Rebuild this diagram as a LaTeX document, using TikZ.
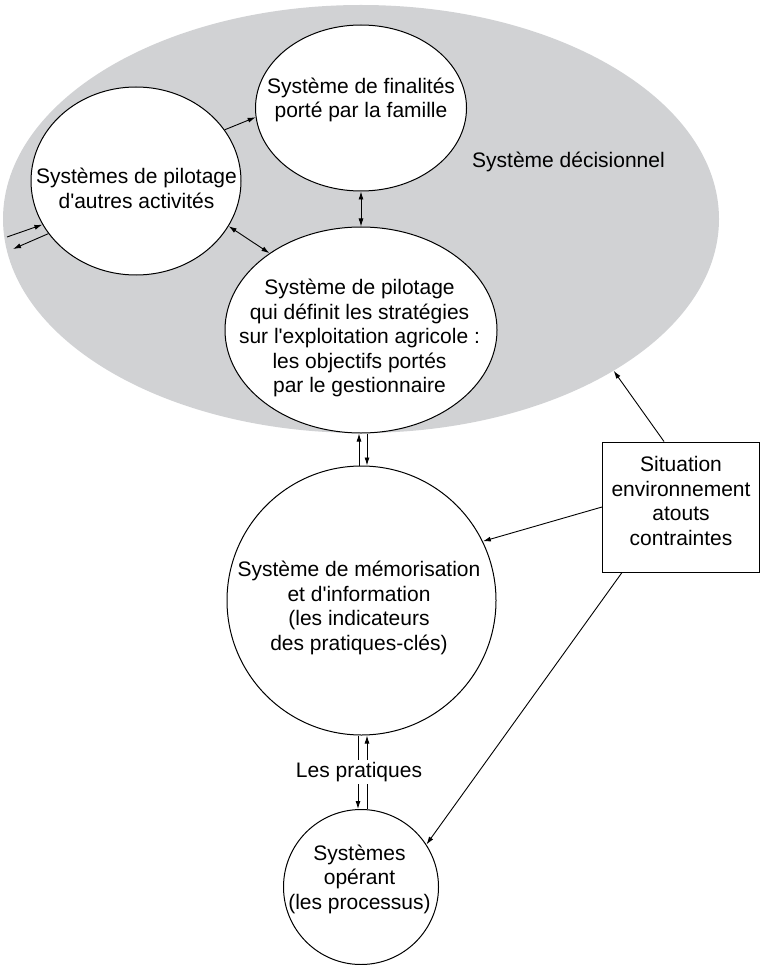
\documentclass[tikz,border=0pt]{standalone}
\usepackage{fontspec}
\setmainfont{Liberation Sans}[Ligatures=TeXOff]
\usetikzlibrary{shapes.geometric,arrows.meta}
\definecolor{decgray}{RGB}{209,210,212}
\begin{document}
\begin{tikzpicture}[x=1pt,y=-1pt,
  every node/.style={font=\fontsize{21}{24.5}\selectfont},
  sysell/.style={ellipse,draw,fill=white,line width=1pt,inner sep=0pt},
  syscirc/.style={circle,draw,fill=white,line width=1pt,inner sep=0pt},
  txt/.style={align=center,inner sep=0pt},
  conn/.style={line width=0.9pt,arrows={-Latex[length=8pt,width=5pt]}},
  dconn/.style={line width=0.9pt,arrows={Latex[length=8pt,width=5pt]-Latex[length=8pt,width=5pt]}}]
\useasboundingbox (0,0) rectangle (760,965);
% decision system background
\node[ellipse,fill=decgray,inner sep=0pt,minimum width=716pt,minimum height=428pt] (dec) at (361,219) {};
\node[txt] (tdec) at (568.5,162) {Système décisionnel};
% ellipses
\node[sysell,minimum width=211pt,minimum height=166pt] (fin) at (361,108) {};
\node[sysell,minimum width=210pt,minimum height=188pt] (oth) at (136,181) {};
\node[sysell,minimum width=272pt,minimum height=206pt] (strat) at (361,330) {};
\node[syscirc,minimum size=269pt] (memo) at (361.5,600.5) {};
\node[syscirc,minimum size=155pt] (op) at (361,887) {};
\node[draw,line width=1pt,minimum width=157pt,minimum height=130pt,inner sep=0pt] (box) at (681,507) {};
% texts
\node[txt] (tfin) at (361,100) {Système de finalités\\porté par la famille};
\node[txt] (toth) at (136.5,188.5) {Systèmes de pilotage\\d'autres activités};
\node[txt] (tstrat) at (359.5,338) {Système de pilotage\\qui définit les stratégies\\sur l'exploitation agricole :\\les objectifs portés\\par le gestionnaire};
\node[txt] (tmemo) at (359,608) {Système de mémorisation\\et d'information\\(les indicateurs\\des pratiques-clés)};
\node[txt] (top) at (359.5,879) {Systèmes\\opérant\\(les processus)};
\node[txt] (tbox) at (681,501) {Situation\\environnement\\atouts\\contraintes};
% connectors inside the decision system
\draw[dconn] (fin) -- (strat);
\draw[conn] (oth.30) -- (fin.185);
\draw[dconn] (oth.-26) -- (strat.140.7);
\coordinate (in1) at (7,237);
\coordinate (out1) at (13,249);
\draw[conn] (in1) -- (oth.205);
\draw[conn] (oth.211) -- (out1);
% strategies <-> memorisation
\draw[conn] ([xshift=-2.5pt]memo.north) -- ([xshift=-2.5pt]memo.north |- strat.south);
\draw[conn] ([xshift=5.5pt]memo.north |- strat.south) -- ([xshift=5.5pt]memo.north);
% memorisation <-> operant
\draw[conn] ([xshift=-3.5pt]memo.south) -- ([xshift=-3.5pt]memo.south |- op.north);
\draw[conn] ([xshift=5.5pt]memo.south |- op.north) -- ([xshift=5.5pt]memo.south);
\node[txt,fill=white,inner xsep=1pt,inner ysep=2pt] (prat) at (359,772) {Les pratiques};
% environment box
\draw[conn] ([xshift=-17pt]box.north) -- (dec.-31.5);
\draw[conn] (box.west) -- (memo.26);
\draw[conn] ([xshift=-59pt]box.south) -- (op.33);
\end{tikzpicture}
\end{document}
